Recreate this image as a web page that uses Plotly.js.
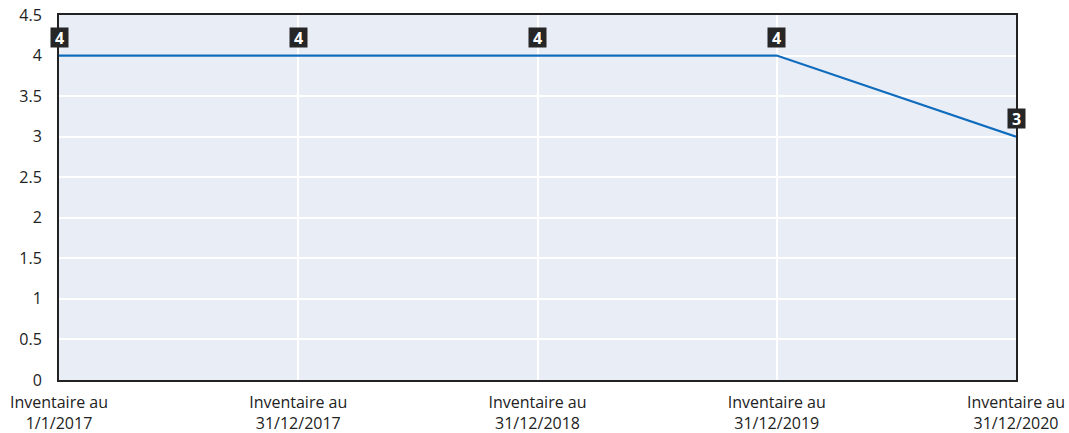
<!DOCTYPE html>
<html>
<head>
<meta charset="utf-8">
<script src="https://cdn.plot.ly/plotly-3.0.1.min.js"></script>
<style>html,body{margin:0;padding:0;background:#fff}</style>
</head>
<body>
<div id="chart" style="width:1069px;height:433px"></div>
<script>
const categories = ["Inventaire au<br>1/1/2017", "Inventaire au<br>31/12/2017", "Inventaire au<br>31/12/2018", "Inventaire au<br>31/12/2019", "Inventaire au<br>31/12/2020"];
const values = [4, 4, 4, 4, 3];
const yTicks = [0, 0.5, 1, 1.5, 2, 2.5, 3, 3.5, 4, 4.5];
const yTickLabels = ["0", "0.5", "1", "1.5", "2", "2.5", "3", "3.5", "4", "4.5"];

const trace = {
  x: categories,
  y: values,
  type: "scatter",
  mode: "lines",
  line: {color: "#0f6cbd", width: 2.2},
  hoverinfo: "none"
};

const annotations = categories.map((c, i) => ({
  x: c, y: values[i], xref: "x", yref: "y",
  text: "<b>" + values[i] + "</b>",
  showarrow: false,
  yshift: 18,
  font: {family: "Open Sans, sans-serif", size: 16, color: "#ffffff"},
  bgcolor: "#262626",
  borderpad: 0,
  width: 17, height: 19
}));

const layout = {
  width: 1069, height: 433,
  margin: {l: 59, r: 53, t: 15, b: 53},
  paper_bgcolor: "#ffffff",
  plot_bgcolor: "#e9edf6",
  showlegend: false,
  font: {family: "Open Sans, sans-serif", size: 15, color: "#222"},
  xaxis: {
    type: "category",
    range: [0, 4],
    showgrid: true, gridcolor: "#ffffff", gridwidth: 2,
    showline: true, linecolor: "#222", linewidth: 2, mirror: true,
    ticks: "outside", ticklen: 7, tickcolor: "rgba(0,0,0,0)",
    tickfont: {size: 16, color: "#222"},
    zeroline: false, fixedrange: true
  },
  yaxis: {
    range: [0, 4.5],
    tickvals: yTicks, ticktext: yTickLabels,
    showgrid: true, gridcolor: "#ffffff", gridwidth: 2,
    showline: true, linecolor: "#222", linewidth: 2, mirror: true,
    ticks: "outside", ticklen: 12, tickcolor: "rgba(0,0,0,0)",
    tickfont: {size: 16, color: "#222"},
    zeroline: false, fixedrange: true
  },
  annotations: annotations
};

Plotly.newPlot("chart", [trace], layout, {displayModeBar: false, staticPlot: true});
</script>
</body>
</html>
